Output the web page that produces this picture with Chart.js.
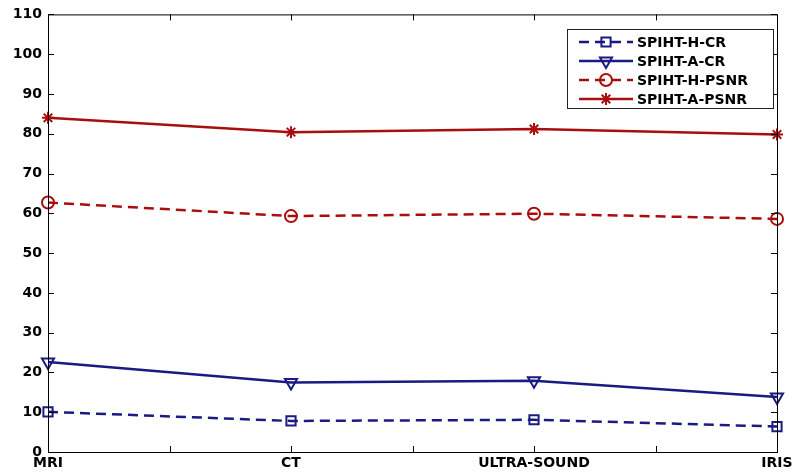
<!DOCTYPE html>
<html>
<head>
<meta charset="utf-8">
<script src="https://cdn.jsdelivr.net/npm/chart.js@4/dist/chart.umd.min.js"></script>
<style>
html, body { margin: 0; padding: 0; background: #fff; }
#wrap { width: 798px; height: 474px; }
</style>
</head>
<body>
<div id="wrap"><canvas id="chart"></canvas></div>
<script>
var categories = ['MRI', 'CT', 'ULTRA-SOUND', 'IRIS'];
var spihtHCR = [10.1, 7.8, 8.1, 6.4];
var spihtACR = [22.6, 17.5, 17.9, 13.8];
var spihtHPSNR = [62.7, 59.3, 59.9, 58.6];
var spihtAPSNR = [84.0, 80.4, 81.2, 79.8];
var yMin = 0, yMax = 110, yStep = 10;

var blue = '#1a1a84';
var red = '#a80e0e';

// frame round the plot with inward ticks, matlab style
var frameTicks = {
    id: 'frameTicks',
    afterDraw: function(chart) {
        var ctx = chart.ctx, a = chart.chartArea;
        var xs = chart.scales.x, ys = chart.scales.y;
        var tl = 6;
        ctx.save();
        ctx.strokeStyle = '#000';
        ctx.lineWidth = 1;
        ctx.strokeRect(a.left + 0.5, a.top + 0.5, a.right - a.left, a.bottom - a.top);
        ctx.beginPath();
        ys.ticks.forEach(function(t) {
            var py = Math.round(ys.getPixelForValue(t.value)) + 0.5;
            ctx.moveTo(a.left, py); ctx.lineTo(a.left + tl, py);
            ctx.moveTo(a.right, py); ctx.lineTo(a.right - tl, py);
        });
        for (var v = 0; v <= categories.length - 1; v += 0.5) {
            var px = Math.round(xs.getPixelForValue(v)) + 0.5;
            ctx.moveTo(px, a.bottom); ctx.lineTo(px, a.bottom - tl);
            ctx.moveTo(px, a.top); ctx.lineTo(px, a.top + tl);
        }
        ctx.stroke();

        // legend box
        var bx = 567, by = 29, bw = 206, bh = 79, rowH = 19;
        ctx.fillStyle = '#fff';
        ctx.fillRect(bx, by, bw, bh);
        ctx.strokeStyle = '#222';
        ctx.strokeRect(bx + 0.5, by + 0.5, bw, bh);
        ctx.font = 'bold 14px "DejaVu Sans"';
        ctx.textBaseline = 'middle';
        chart.data.datasets.forEach(function(ds, i) {
            var cy = by + 13 + i * rowH;
            ctx.strokeStyle = ds.borderColor;
            ctx.lineWidth = ds.borderWidth;
            ctx.setLineDash(ds.borderDash || []);
            ctx.beginPath();
            ctx.moveTo(bx + 12, cy); ctx.lineTo(bx + 66, cy);
            ctx.stroke();
            ctx.setLineDash([]);
            ctx.lineWidth = ds.pointBorderWidth;
            ctx.fillStyle = 'rgba(0,0,0,0)';
            Chart.helpers.drawPoint(ctx, {
                pointStyle: ds.pointStyle,
                rotation: ds.pointRotation || 0,
                radius: ds.pointRadius,
                borderWidth: ds.pointBorderWidth
            }, bx + 39, cy);
            ctx.fillStyle = '#000';
            ctx.fillText(ds.label, bx + 70, cy + 1);
        });
        ctx.restore();
    }
};

Chart.defaults.font.family = '"DejaVu Sans"';
Chart.defaults.font.size = 14;
Chart.defaults.font.weight = 'bold';
Chart.defaults.color = '#000';

var ctx = document.getElementById('chart').getContext('2d');
new Chart(ctx, {
    type: 'line',
    data: {
        labels: categories,
        datasets: [
            { label: 'SPIHT-H-CR', data: spihtHCR, borderColor: blue, borderWidth: 2.5, borderDash: [10, 6],
              pointStyle: 'rect', pointRadius: 6.5, pointBorderWidth: 2, pointBorderColor: blue, pointBackgroundColor: 'rgba(0,0,0,0)' },
            { label: 'SPIHT-A-CR', data: spihtACR, borderColor: blue, borderWidth: 2.5,
              pointStyle: 'triangle', pointRotation: 180, pointRadius: 7, pointBorderWidth: 2, pointBorderColor: blue, pointBackgroundColor: 'rgba(0,0,0,0)' },
            { label: 'SPIHT-H-PSNR', data: spihtHPSNR, borderColor: red, borderWidth: 2.5, borderDash: [10, 6],
              pointStyle: 'circle', pointRadius: 6, pointBorderWidth: 2, pointBorderColor: red, pointBackgroundColor: 'rgba(0,0,0,0)' },
            { label: 'SPIHT-A-PSNR', data: spihtAPSNR, borderColor: red, borderWidth: 2.5,
              pointStyle: 'star', pointRadius: 6, pointBorderWidth: 2, pointBorderColor: red, pointBackgroundColor: 'rgba(0,0,0,0)' }
        ]
    },
    options: {
        responsive: true,
        maintainAspectRatio: false,
        animation: false,
        layout: { padding: { top: 14, right: 21, left: 0, bottom: 0 } },
        plugins: { legend: { display: false }, tooltip: { enabled: false } },
        elements: { line: { tension: 0 } },
        scales: {
            x: {
                offset: false,
                grid: { display: false, drawTicks: false },
                border: { display: false },
                ticks: { padding: 3, maxRotation: 0, autoSkip: false },
                afterFit: function(scale) { scale.height = 22; }
            },
            y: {
                min: yMin, max: yMax,
                grid: { display: false, drawTicks: false },
                border: { display: false },
                ticks: { stepSize: yStep, padding: 6 },
                afterFit: function(scale) { scale.width = 48; }
            }
        }
    },
    plugins: [frameTicks]
});
</script>
</body>
</html>
